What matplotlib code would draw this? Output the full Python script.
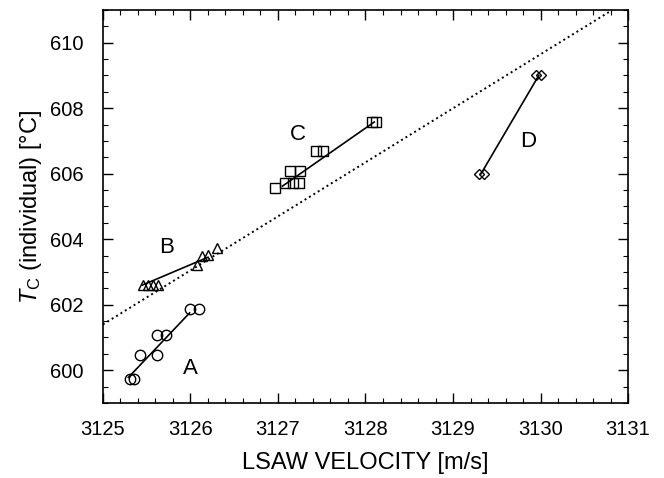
import matplotlib
matplotlib.use("Agg")
import matplotlib.pyplot as plt
from matplotlib.ticker import MultipleLocator

plt.rcParams['font.family'] = ['Liberation Sans', 'DejaVu Sans']
plt.rcParams['mathtext.fontset'] = 'custom'
plt.rcParams['mathtext.rm'] = 'Liberation Sans'
plt.rcParams['mathtext.it'] = 'Liberation Sans:italic'

# group A (circles)
a_v = [3125.31, 3125.35, 3125.42, 3125.62, 3125.62, 3125.72, 3126.00, 3126.10]
a_t = [599.72, 599.72, 600.48, 600.48, 601.09, 601.09, 601.88, 601.88]
a_line_v = [3125.29, 3125.99]
a_line_t = [599.78, 601.75]

# group B (triangles)
b_v = [3125.46, 3125.52, 3125.57, 3125.63, 3126.07, 3126.13, 3126.20, 3126.30]
b_t = [602.60, 602.60, 602.60, 602.60, 603.22, 603.48, 603.51, 603.73]
b_line_v = [3125.45, 3126.20]
b_line_t = [602.60, 603.45]

# group C (squares)
c_v = [3126.97, 3127.08, 3127.17, 3127.24, 3127.14, 3127.25, 3127.44, 3127.52, 3128.08, 3128.12]
c_t = [605.58, 605.71, 605.71, 605.71, 606.07, 606.07, 606.68, 606.68, 607.58, 607.58]
c_line_v = [3127.05, 3128.10]
c_line_t = [605.62, 607.58]

# group D (diamonds)
d_v = [3129.30, 3129.35, 3129.95, 3130.00]
d_t = [606.0, 606.0, 609.0, 609.0]
d_line_v = [3129.32, 3129.98]
d_line_t = [606.0, 609.0]

# dotted overall trend
trend_v = [3125.0, 3130.82]
trend_t = [601.4, 611.0]

labels = ['A', 'B', 'C', 'D']
label_v = [3126.0, 3125.73, 3127.23, 3129.86]
label_t = [600.06, 603.75, 607.2, 606.98]

fig = plt.figure(figsize=(6.64, 4.78), dpi=100)
ax = fig.add_axes([0.1551, 0.1569, 0.7907, 0.8222])

ax.plot(trend_v, trend_t, ls=':', color='black', lw=1.4)

groups = [
    (a_v, a_t, a_line_v, a_line_t, 'o', 7.5),
    (b_v, b_t, b_line_v, b_line_t, '^', 7.5),
    (c_v, c_t, c_line_v, c_line_t, 's', 6.5),
    (d_v, d_t, d_line_v, d_line_t, 'D', 5.5),
]
for v, t, lv, lt, m, ms in groups:
    ax.plot(lv, lt, color='black', lw=1.2)
    ax.plot(v, t, ls='none', marker=m, ms=ms, mfc='none', mec='black', mew=1.0)

for lab, v, t in zip(labels, label_v, label_t):
    ax.text(v, t, lab, fontsize=16, ha='center', va='center')

ax.set_xlim(3125, 3131)
ax.set_ylim(599, 611)
ax.xaxis.set_major_locator(MultipleLocator(1))
ax.xaxis.set_minor_locator(MultipleLocator(0.2))
ax.yaxis.set_major_locator(MultipleLocator(2))
ax.yaxis.set_minor_locator(MultipleLocator(0.5))
ax.tick_params(which='both', direction='in', top=True, right=True, labelsize=14.5)
ax.tick_params(which='major', length=7, width=1.0)
ax.tick_params(which='minor', length=3.5, width=0.8)
ax.tick_params(axis='x', pad=12.5)
ax.tick_params(axis='y', pad=14)
for s in ax.spines.values():
    s.set_linewidth(1.2)

ax.set_xlabel('LSAW VELOCITY [m/s]', fontsize=17, labelpad=9)
ax.set_ylabel(r'$T_{\mathrm{C}}$ (individual) [°C]', fontsize=17, labelpad=4)

fig.savefig('out.png', dpi=100)
